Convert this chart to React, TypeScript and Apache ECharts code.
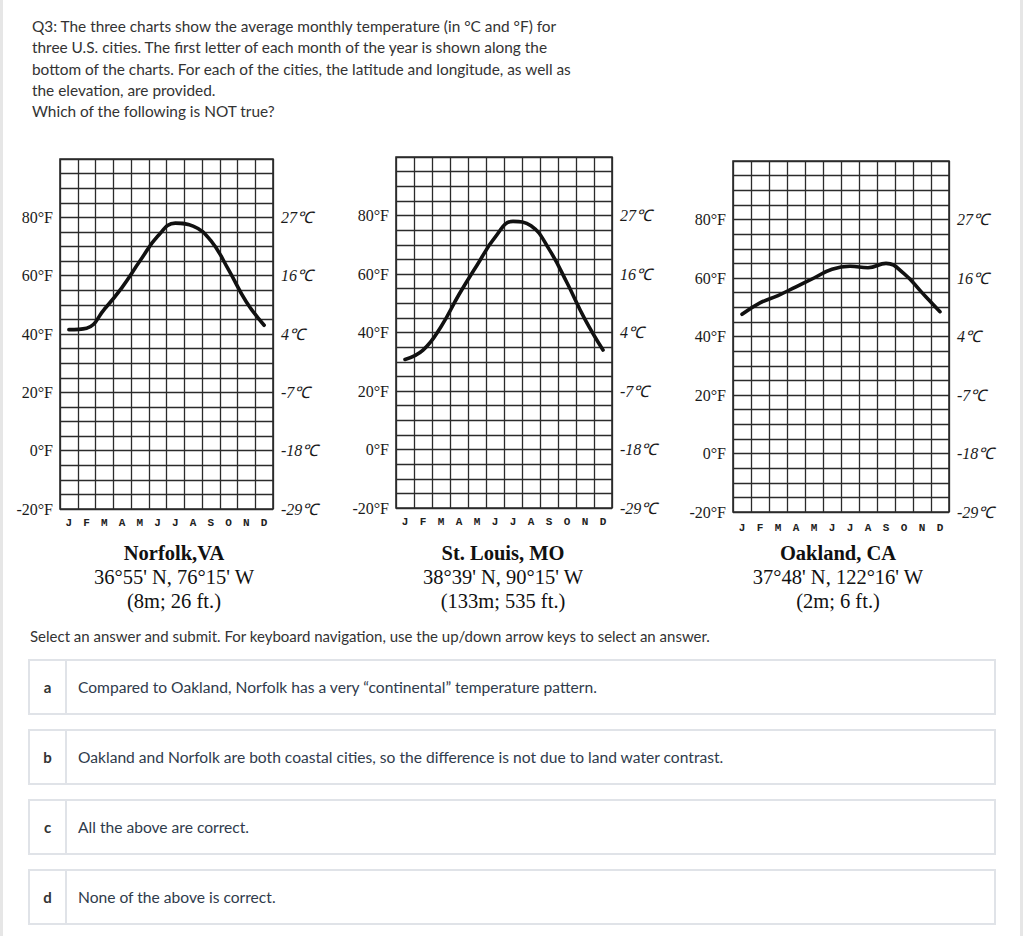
import React, { useEffect, useRef } from "react";
import * as echarts from "echarts";

// ---- data ----
const monthNames = ["Jan", "Feb", "Mar", "Apr", "May", "Jun", "Jul", "Aug", "Sep", "Oct", "Nov", "Dec"];
const norfolkF = [41.5, 42, 48.5, 56, 65, 73.5, 78, 77, 72, 62, 51, 43];
const stLouisF = [30.8, 34, 42, 53, 63, 72.5, 78, 76.5, 68.5, 57, 44.5, 34];
const oaklandF = [47.6, 51.5, 54, 57, 60, 63, 64, 63.5, 65, 61.5, 55, 48.5];
const fahrenheitTicks = [-20, 0, 20, 40, 60, 80];
const fahrenheitLabels = ["-20°F", "0°F", "20°F", "40°F", "60°F", "80°F"];
const celsiusLabels = ["-29℃", "-18℃", "-7℃", "4℃", "16℃", "27℃"];
const cityNames = ["Norfolk,VA", "St. Louis, MO", "Oakland, CA"];
const cityCoords = ["36°55' N, 76°15' W", "38°39' N, 90°15' W", "37°48' N, 122°16' W"];
const cityElev = ["(8m; 26 ft.)", "(133m; 535 ft.)", "(2m; 6 ft.)"];

const questionLines = [
  "Q3: The three charts show the average monthly temperature (in °C and °F) for",
  "three U.S. cities. The first letter of each month of the year is shown along the",
  "bottom of the charts. For each of the cities, the latitude and longitude, as well as",
  "the elevation, are provided.",
  "Which of the following is NOT true?",
];
const instruction =
  "Select an answer and submit. For keyboard navigation, use the up/down arrow keys to select an answer.";
const optionLetters = ["a", "b", "c", "d"];
const optionTexts = [
  "Compared to Oakland, Norfolk has a very “continental” temperature pattern.",
  "Oakland and Norfolk are both coastal cities, so the difference is not due to land water contrast.",
  "All the above are correct.",
  "None of the above is correct.",
];

// ---- layout ----
const grids = [
  { left: 60, top: 159, width: 213, height: 350, labelMargin: 8, cx: 174 },
  { left: 396, top: 157, width: 216, height: 351, labelMargin: 8, cx: 503 },
  { left: 733, top: 161, width: 216, height: 351, labelMargin: 10, cx: 838 },
];
const seriesList = [norfolkF, stLouisF, oaklandF];

const gridColor = "#2b2b2b";
const serif = "'Liberation Serif', 'Times New Roman', serif";

export default function App() {
  const ref = useRef<HTMLDivElement>(null);

  useEffect(() => {
    if (!ref.current) return;
    const chart = echarts.init(ref.current, undefined, { renderer: "svg" });

    const fLabel = (v: number) => {
      const i = fahrenheitTicks.indexOf(v);
      return i >= 0 ? fahrenheitLabels[i] : "";
    };
    const cLabel = (v: number) => {
      const i = fahrenheitTicks.indexOf(v);
      return i >= 0 ? celsiusLabels[i] : "";
    };

    const gridOpt = grids.map((g) => ({
      left: g.left,
      top: g.top,
      width: g.width,
      height: g.height,
      show: true,
      borderColor: gridColor,
      borderWidth: 1.6,
      backgroundColor: "#fff",
    }));

    const xAxes = grids.map((g, i) => ({
      type: "category",
      gridIndex: i,
      data: monthNames,
      boundaryGap: true,
      axisLine: { show: false },
      axisTick: { show: false },
      axisLabel: {
        formatter: (v: string) => v.charAt(0),
        fontFamily: "'Liberation Mono', 'DejaVu Sans Mono', monospace",
        fontWeight: "bold",
        fontSize: 11,
        color: "#222",
        margin: g.labelMargin,
        interval: 0,
      },
      splitLine: { show: true, lineStyle: { color: gridColor, width: 1.3 } },
    }));

    const yAxes: any[] = [];
    grids.forEach((g, i) => {
      yAxes.push({
        type: "value",
        gridIndex: i,
        min: -20,
        max: 100,
        interval: 5,
        position: "left",
        axisLine: { show: false },
        axisTick: { show: false },
        axisLabel: {
          formatter: fLabel,
          fontFamily: serif,
          fontSize: 16,
          color: "#1a1a1a",
          margin: 7,
        },
        splitLine: { show: true, lineStyle: { color: gridColor, width: 1.3 } },
      });
      yAxes.push({
        type: "value",
        gridIndex: i,
        min: -20,
        max: 100,
        interval: 5,
        position: "right",
        axisLine: { show: false },
        axisTick: { show: false },
        axisLabel: {
          formatter: cLabel,
          fontFamily: serif,
          fontStyle: "italic",
          fontSize: 16,
          color: "#1a1a1a",
          margin: 8,
        },
        splitLine: { show: false },
      });
    });

    const series = seriesList.map((data, i) => ({
      type: "line",
      xAxisIndex: i,
      yAxisIndex: i * 2,
      data,
      smooth: 0.45,
      symbol: "none",
      lineStyle: { color: "#111", width: 3.6, cap: "round", join: "round" },
    }));

    const graphic: any[] = [];
    grids.forEach((g, i) => {
      graphic.push({
        type: "text",
        x: g.cx,
        y: 553,
        style: {
          text: cityNames[i],
          font: `bold 20.5px ${serif}`,
          fill: "#111",
          textAlign: "center",
          textVerticalAlign: "middle",
        },
      });
      graphic.push({
        type: "text",
        x: g.cx,
        y: 577,
        style: {
          text: cityCoords[i],
          font: `20.5px ${serif}`,
          fill: "#111",
          textAlign: "center",
          textVerticalAlign: "middle",
        },
      });
      graphic.push({
        type: "text",
        x: g.cx,
        y: 601,
        style: {
          text: cityElev[i],
          font: `20.5px ${serif}`,
          fill: "#111",
          textAlign: "center",
          textVerticalAlign: "middle",
        },
      });
    });

    chart.setOption({
      animation: false,
      backgroundColor: "transparent",
      grid: gridOpt,
      xAxis: xAxes,
      yAxis: yAxes,
      series,
      graphic,
    });

    return () => chart.dispose();
  }, []);

  const sans = "Lato, 'Open Sans', 'Noto Sans', sans-serif";

  return (
    <div
      style={{
        position: "absolute",
        left: 0,
        top: 0,
        width: 1024,
        height: 936,
        background: "#fff",
        overflow: "hidden",
        fontFamily: sans,
      }}
    >
      <div style={{ position: "absolute", left: 0, top: 0, width: 3, height: 936, background: "#e6e6e6" }} />
      <div style={{ position: "absolute", left: 1020, top: 0, width: 3, height: 936, background: "#e6e6e6" }} />

      <div
        ref={ref}
        style={{ position: "absolute", left: 0, top: 0, width: 1024, height: 620 }}
      />

      <div
        style={{
          position: "absolute",
          left: 32,
          top: 16,
          fontSize: 15.4,
          lineHeight: "21.3px",
          color: "#333",
          whiteSpace: "nowrap",
        }}
      >
        {questionLines.map((l, i) => (
          <div key={i}>{l}</div>
        ))}
      </div>

      <div
        style={{
          position: "absolute",
          left: 30,
          top: 626,
          fontSize: 15,
          lineHeight: "20px",
          color: "#333",
          whiteSpace: "nowrap",
        }}
      >
        {instruction}
      </div>

      {optionTexts.map((t, i) => (
        <div
          key={i}
          style={{
            position: "absolute",
            left: 28,
            top: 659 + i * 70,
            width: 968,
            height: 56,
            boxSizing: "border-box",
            border: "2px solid #e0e3e8",
            display: "flex",
            alignItems: "center",
          }}
        >
          <div
            style={{
              width: 37,
              height: "100%",
              borderRight: "2px solid #e0e3e8",
              display: "flex",
              alignItems: "center",
              justifyContent: "center",
              fontSize: 15,
              fontWeight: 700,
              color: "#333",
              boxSizing: "border-box",
            }}
          >
            {optionLetters[i]}
          </div>
          <div style={{ paddingLeft: 11, fontSize: 15.6, color: "#2f3b4c", whiteSpace: "nowrap" }}>{t}</div>
        </div>
      ))}
    </div>
  );
}
